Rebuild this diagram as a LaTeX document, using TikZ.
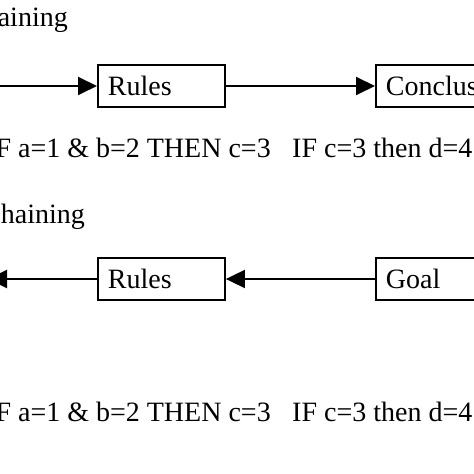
\documentclass[tikz,border=0pt]{standalone}
\usepackage{fontspec}
\setmainfont{Liberation Serif}
\usetikzlibrary{arrows.meta}
\begin{document}
\begin{tikzpicture}[x=1pt,y=1pt,
  every node/.style={font=\fontsize{28}{34}\selectfont},
  rulebox/.style={draw, line width=1.9pt, rectangle, minimum height=42pt, inner xsep=10pt, inner ysep=0pt, align=left, anchor=west},
  conn/.style={line width=1.9pt, -{Triangle[length=19pt,width=18pt]}},
  lbl/.style={inner sep=0pt}]
\useasboundingbox (0,0) rectangle (474,474);
\fill[white] (0,0) rectangle (474,474);
\clip (0,0) rectangle (474,474);
% forward chaining
\node[lbl, anchor=base east] (fwd) at (68,447) {Forward chaining};
\coordinate (fstart) at (-30,388);
\node[rulebox, text width=107pt] (r1) at (97,388) {Rules};
\node[rulebox, text width=140pt] (c1) at (375,388) {Conclusion};
\draw[conn] (fstart) -- (r1.west);
\draw[conn] (r1.east) -- (c1.west);
\node[lbl, anchor=base west] (t1a) at (-14,316) {IF a=1 \& b=2 THEN c=3};
\node[lbl, anchor=base west] (t1b) at (292,316) {IF c=3 then d=4};
% backward chaining
\node[lbl, anchor=base east] (bwd) at (85,250) {Backward chaining};
\coordinate (bend) at (-12,195);
\node[rulebox, text width=107pt] (r2) at (97,195) {Rules};
\node[rulebox, text width=140pt] (g2) at (375,195) {Goal};
\draw[conn] (r2.west) -- (bend);
\draw[conn] (g2.west) -- (r2.east);
\node[lbl, anchor=base west] (t2a) at (-14,52) {IF a=1 \& b=2 THEN c=3};
\node[lbl, anchor=base west] (t2b) at (292,52) {IF c=3 then d=4};
\end{tikzpicture}
\end{document}
